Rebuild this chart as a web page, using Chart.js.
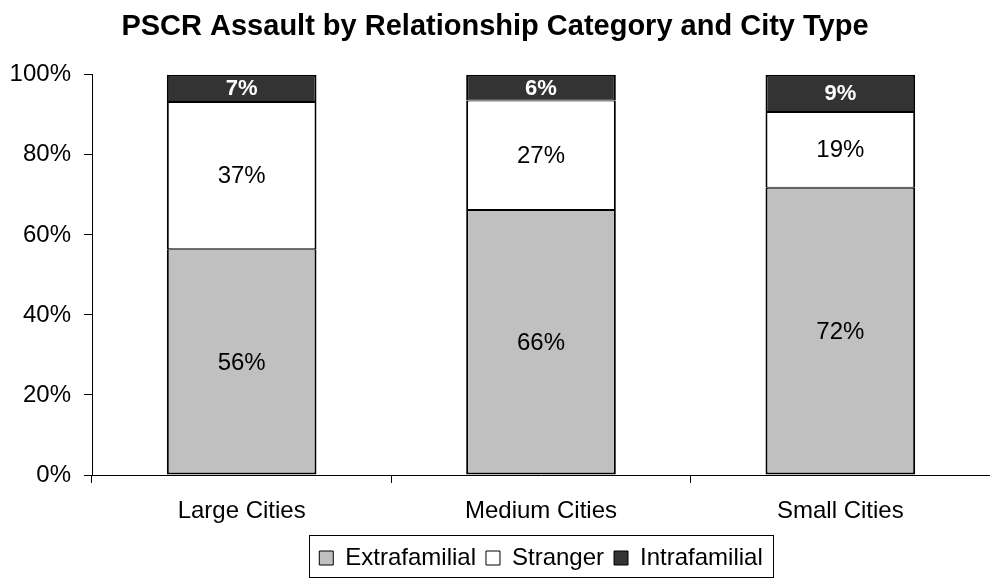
<!DOCTYPE html>
<html lang="en">
<head>
<meta charset="UTF-8">
<script src="https://cdn.jsdelivr.net/npm/chart.js@4.4.1/dist/chart.umd.min.js"></script>
<title>PSCR Assault</title>
<style>
  body { margin: 0; background: #fff; }
</style>
</head>
<body>
<canvas id="chart" width="990" height="580"></canvas>
<script>
const cities = ['Large Cities', 'Medium Cities', 'Small Cities'];
const extrafamilial = [56.4, 66.2, 71.8];
const stranger = [36.8, 27.4, 18.9];
const intrafamilial = [6.8, 6.4, 9.3];
const yTicks = [0, 20, 40, 60, 80, 100];

const FONT = '"Liberation Sans", Arial, sans-serif';

// labels inside each bar segment
const segmentLabels = {
  id: 'segmentLabels',
  afterDatasetsDraw(chart) {
    const ctx = chart.ctx;
    ctx.save();
    ctx.textAlign = 'center';
    ctx.textBaseline = 'middle';
    chart.data.datasets.forEach((ds, i) => {
      chart.getDatasetMeta(i).data.forEach((bar, j) => {
        const mid = (bar.y + bar.base) / 2;
        if (i === 2) {
          ctx.font = 'bold 22px ' + FONT;
          ctx.fillStyle = '#fff';
        } else {
          ctx.font = '24px ' + FONT;
          ctx.fillStyle = '#000';
        }
        ctx.fillText(Math.round(ds.data[j]) + '%', bar.x, mid + 1);
      });
    });
    ctx.restore();
  }
};

// legend sits under the plot area (not the whole canvas), with a box round it
const legendBox = {
  id: 'legendBox',
  afterLayout(chart) {
    const l = chart.legend, a = chart.chartArea;
    const dx = Math.round((a.left + a.right) / 2 - (l.left + l.right) / 2);
    l.left += dx;
    l.right += dx;
  },
  afterDraw(chart) {
    const boxes = chart.legend.legendHitBoxes;
    if (!boxes || !boxes.length) return;
    const first = boxes[0], last = boxes[boxes.length - 1];
    const x0 = Math.round(first.left - 10) + 0.5;
    const x1 = Math.round(last.left + last.width + 10) + 0.5;
    const ctx = chart.ctx;
    ctx.save();
    ctx.strokeStyle = '#000';
    ctx.lineWidth = 1;
    ctx.strokeRect(x0, 535.5, x1 - x0, 42);
    ctx.restore();
  }
};

const borders = [
  { left: 2, right: 2, bottom: 2, top: 1 },
  { left: 2, right: 2, bottom: 1, top: 1 },
  { left: 2, right: 2, bottom: 1, top: 2 }
];

new Chart(document.getElementById('chart').getContext('2d'), {
  type: 'bar',
  data: {
    labels: cities,
    datasets: [
      { label: 'Extrafamilial', data: extrafamilial, backgroundColor: '#c0c0c0' },
      { label: 'Stranger', data: stranger, backgroundColor: '#ffffff' },
      { label: 'Intrafamilial', data: intrafamilial, backgroundColor: '#333333' }
    ].map((d, i) => Object.assign(d, {
      borderColor: '#000', borderWidth: borders[i], borderSkipped: false,
      barPercentage: 0.5, categoryPercentage: 1
    }))
  },
  options: {
    responsive: false,
    animation: false,
    layout: { padding: { left: 0, right: 0, top: 0, bottom: 0 } },
    plugins: {
      title: {
        display: true,
        text: 'PSCR Assault by Relationship Category and City Type',
        color: '#000',
        font: { family: FONT, size: 29, weight: 'bold' },
        padding: { top: 10, bottom: 30 }
      },
      legend: {
        position: 'bottom',
        labels: {
          color: '#000',
          font: { family: FONT, size: 24 },
          boxWidth: 14, boxHeight: 14,
          padding: 10,
          generateLabels(chart) {
            return chart.data.datasets.map((ds, i) => ({
              text: ds.label,
              fillStyle: ds.backgroundColor,
              strokeStyle: '#000',
              lineWidth: 1,
              datasetIndex: i,
              fontColor: '#000'
            }));
          }
        }
      },
      tooltip: { enabled: false }
    },
    scales: {
      x: {
        stacked: true,
        afterFit(axis) { axis.height = 61; },
        grid: { offset: true, drawOnChartArea: false, drawTicks: true, tickLength: 8, color: '#000' },
        border: { color: '#000' },
        ticks: { color: '#000', font: { family: FONT, size: 24 }, padding: 14 }
      },
      y: {
        stacked: true,
        min: 0, max: 100,
        afterFit(axis) { axis.width = 92; },
        afterBuildTicks(axis) { axis.ticks = yTicks.map(v => ({ value: v })); },
        grid: { drawOnChartArea: false, drawTicks: true, tickLength: 8, color: '#000' },
        border: { color: '#000' },
        ticks: { color: '#000', font: { family: FONT, size: 24 }, padding: 13,
          callback: v => v + '%' }
      }
    }
  },
  plugins: [segmentLabels, legendBox]
});
</script>
</body>
</html>
